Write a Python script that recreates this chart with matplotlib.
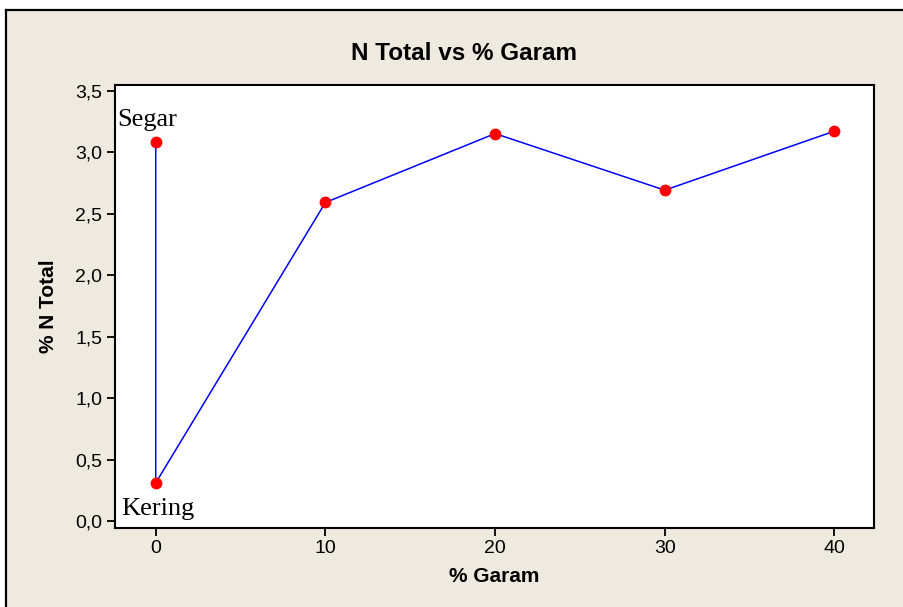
import numpy as np
import matplotlib
matplotlib.use("Agg")
import matplotlib.pyplot as plt
from matplotlib.patches import Rectangle
from matplotlib.lines import Line2D

# Data
garam = [0, 0, 10, 20, 30, 40]
n_total = [3.08, 0.31, 2.59, 3.15, 2.69, 3.17]
point_labels = ["Segar", "Kering"]

x_ticks = [0, 10, 20, 30, 40]
y_ticks = [0.0, 0.5, 1.0, 1.5, 2.0, 2.5, 3.0, 3.5]

BG_CLR = "#EEEAE0"
W, H = 904, 607

plt.rcParams["font.family"] = ["Liberation Sans", "DejaVu Sans"]

fig = plt.figure(figsize=(W/100, H/100), dpi=100)
fig.patch.set_facecolor("white")

# Beige panel with black top/left border
fig.patches.append(Rectangle((6/W, 0), 1, 1 - 10/H, transform=fig.transFigure,
                             facecolor=BG_CLR, edgecolor="none", zorder=-10))
fig.lines.append(Line2D([6/W, 1], [1 - 10/H, 1 - 10/H], transform=fig.transFigure, color="k", lw=1.6))
fig.lines.append(Line2D([6/W, 6/W], [0, 1 - 10/H], transform=fig.transFigure, color="k", lw=1.6))

ax = fig.add_axes([115/W, 1 - 527.7/H, (874.5 - 115)/W, (527.7 - 85)/H])
ax.set_facecolor("white")

ax.plot(garam, n_total, color="blue", lw=1.1, marker="o", ms=7.5,
        markerfacecolor="red", markeredgecolor="red", zorder=3)

ax.set_xlim(-2.4, 42.36)
ax.set_ylim(-0.054, 3.545)
ax.set_xticks(x_ticks)
ax.set_xticklabels([str(v) for v in x_ticks])
ax.set_yticks(y_ticks)
ax.set_yticklabels([f"{v:.1f}".replace(".", ",") for v in y_ticks])
ax.tick_params(direction="out", length=6, width=1.3, labelsize=14, pad=3)
for sp in ax.spines.values():
    sp.set_linewidth(1.5)

# Point labels
ax.text(-2.28, 3.21, point_labels[0], family="Liberation Serif", fontsize=19,
        ha="left", va="baseline")
ax.text(-2.06, 0.05, point_labels[1], family="Liberation Serif", fontsize=19,
        ha="left", va="baseline")

fig.text(464/W, 1 - 53.5/H, "N Total vs % Garam", ha="center", va="center",
         fontsize=17.5, fontweight="bold")
fig.text(494/W, 1 - 576/H, "% Garam", ha="center", va="center",
         fontsize=15, fontweight="bold")
fig.text(49/W, 1 - 306/H, "% N Total", ha="center", va="center", rotation=90,
         fontsize=15, fontweight="bold")

fig.savefig("out.png", dpi=100, facecolor="white")
